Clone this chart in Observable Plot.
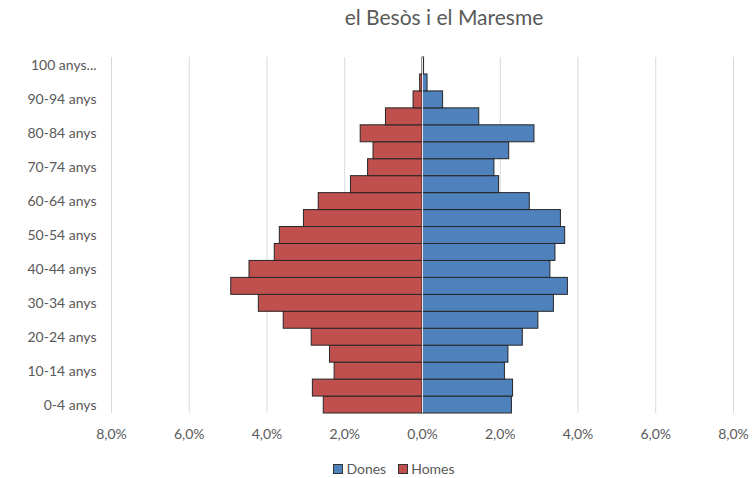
<!DOCTYPE html>
<html>
<head>
<meta charset="utf-8">
<script src="https://cdn.jsdelivr.net/npm/d3@7"></script>
<script src="https://cdn.jsdelivr.net/npm/@observablehq/plot@0.6"></script>
<style>
  body { margin: 0; background: #fff; font-family: Lato, "Open Sans", sans-serif; }
  #wrap { position: relative; width: 753px; height: 478px; }
  #title { position: absolute; top: 4px; left: 0; width: 888px; text-align: center; font-size: 21px; color: #595959; }
  #chart { position: absolute; top: 46px; left: 0; }
  #legend { position: absolute; top: 460px; left: 0; width: 788px; text-align: center; font-size: 14px; color: #595959; }
  .sw { display: inline-block; width: 8px; height: 8px; border: 1px solid #333; margin-right: 3px; vertical-align: 0px; }
  .item { margin: 0 6px; }
</style>
</head>
<body>
<div id="wrap">
  <div id="title">el Besòs i el Maresme</div>
  <div id="chart"></div>
  <div id="legend"><span class="item"><span class="sw" style="background:#4F81BD"></span>Dones</span><span class="item"><span class="sw" style="background:#C0504D"></span>Homes</span></div>
</div>
<script>
const ages = ["0-4 anys","5-9 anys","10-14 anys","15-19 anys","20-24 anys","25-29 anys","30-34 anys","35-39 anys","40-44 anys","45-49 anys","50-54 anys","55-59 anys","60-64 anys","65-69 anys","70-74 anys","75-79 anys","80-84 anys","85-89 anys","90-94 anys","95-99 anys","100 anys..."];
const dones = [2.30, 2.33, 2.12, 2.21, 2.58, 2.98, 3.38, 3.74, 3.29, 3.42, 3.67, 3.56, 2.76, 1.97, 1.85, 2.23, 2.88, 1.46, 0.53, 0.13, 0.04];
const homes = [2.54, 2.82, 2.26, 2.38, 2.85, 3.57, 4.21, 4.92, 4.45, 3.80, 3.67, 3.05, 2.67, 1.84, 1.40, 1.26, 1.59, 0.94, 0.23, 0.06, 0.00];
const xTicks = [-8, -6, -4, -2, 0, 2, 4, 6, 8];

const rows = [];
ages.forEach((a, i) => {
  rows.push({age: a, sex: "Dones", x1: 0, x2: dones[i]});
  rows.push({age: a, sex: "Homes", x1: -homes[i], x2: 0});
});
const shown = new Set(ages.filter((a, i) => i % 2 === 0));

const chart = Plot.plot({
  width: 753,
  height: 400,
  marginTop: 11,
  marginBottom: 33,
  marginLeft: 111,
  marginRight: 20,
  style: {fontFamily: "Lato, 'Open Sans', sans-serif", fontSize: "14px", color: "#595959", background: "#fff"},
  x: {domain: [-8, 8], ticks: xTicks},
  y: {domain: ages.slice().reverse(), padding: 0, round: false},
  color: {domain: ["Dones", "Homes"], range: ["#4F81BD", "#C0504D"]},
  marks: [
    Plot.gridX(xTicks, {stroke: "#d9d9d9", strokeOpacity: 1, strokeWidth: 1}),
    Plot.barX(rows, {y: "age", x1: "x1", x2: "x2", fill: "sex", stroke: "#262626", strokeWidth: 1}),
    Plot.ruleX([0], {stroke: "#e6e6e6", strokeWidth: 1}),
    Plot.axisX({ticks: xTicks, tickSize: 0, tickPadding: 16, fill: "#595959", fontSize: 14,
      tickFormat: d => Math.abs(d).toFixed(1).replace(".", ",") + "%", label: null}),
    Plot.axisY({tickSize: 0, tickPadding: 15, fill: "#595959", fontSize: 14,
      tickFormat: d => shown.has(d) ? d : "", label: null})
  ]
});
document.getElementById("chart").appendChild(chart);
</script>
</body>
</html>
